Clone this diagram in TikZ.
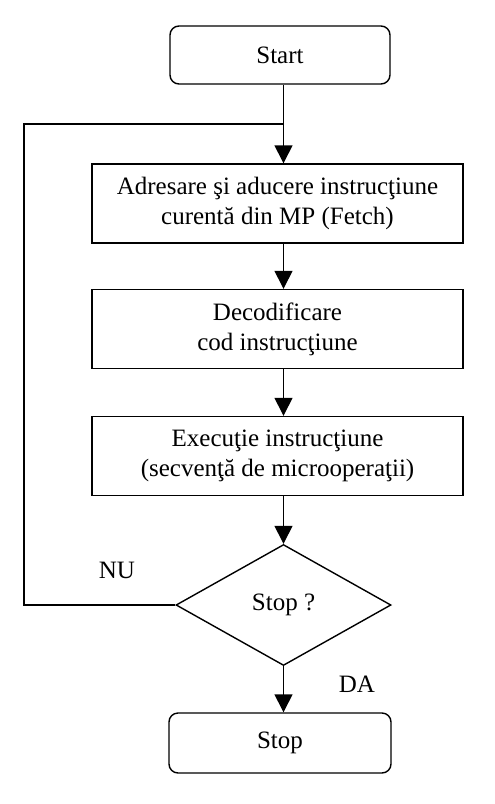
\documentclass[tikz,border=0pt]{standalone}
\usepackage{fontspec}
\setmainfont{Liberation Serif}
\usetikzlibrary{shapes.geometric,arrows.meta}
\begin{document}
\begin{tikzpicture}[x=1pt,y=-1pt,
  every node/.style={font=\fontsize{25}{30}\selectfont, inner sep=0pt},
  line/.style={line width=1.4pt, draw=black},
  arr/.style={line, -{Triangle[width=18pt,length=18pt]}},
  term/.style={line, rectangle, rounded corners=9pt, minimum width=220pt, minimum height=58pt, align=center},
  proc/.style={line, rectangle, minimum width=371pt, minimum height=79pt, align=center},
  decision/.style={line, diamond, minimum width=215pt, minimum height=121pt, align=center},
  lbl/.style={}]
\useasboundingbox (0,0) rectangle (495,804);
\node[term] (start) at (280,55) {Start};
\node[proc] (fetch) at (277.5,203.5) {Adresare şi aducere instrucţiune\\curentă din MP (Fetch)};
\node[proc] (decode) at (277.5,329) {Decodificare\\cod instrucţiune};
\node[proc] (exec) at (277.5,456) {Execuţie instrucţiune\\(secvenţă de microoperaţii)};
\node[decision] (d) at (283.5,605) {Stop ?};
\node[term, minimum width=222pt, minimum height=60pt] (stop) at (280,743) {Stop};
\node[lbl] (nu) at (117,570) {NU};
\node[lbl] (da) at (357,684) {DA};
\coordinate (lc) at (24,124);
\draw[arr] (start.south -| d.north) -- (fetch.north -| d.north);
\draw[arr] (fetch.south -| d.north) -- (decode.north -| d.north);
\draw[arr] (decode.south -| d.north) -- (exec.north -| d.north);
\draw[arr] (exec.south -| d.north) -- (d.north);
\draw[arr] (d.south) -- (stop.north -| d.south);
\draw[line] (d.west) -| (lc) -- (lc -| d.north);
\end{tikzpicture}
\end{document}
